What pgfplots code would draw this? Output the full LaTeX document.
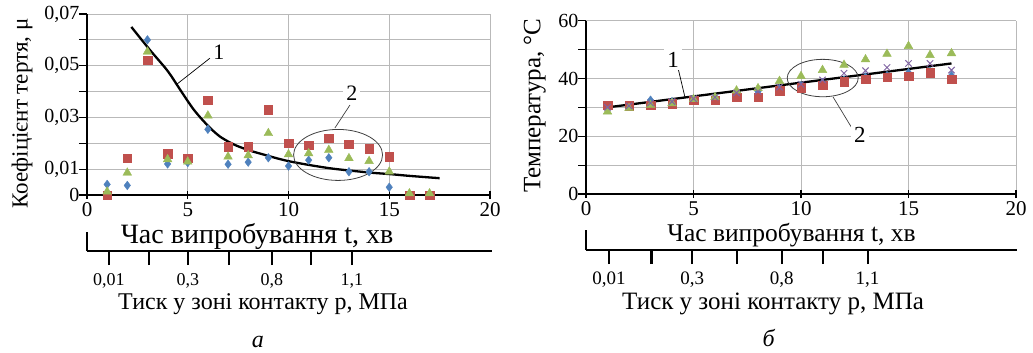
\documentclass[border=0pt]{standalone}
\usepackage{fontspec}
\setmainfont{Liberation Serif}
\usepackage{pgfplots}
\pgfplotsset{compat=1.18}
\definecolor{xlblue}{RGB}{79,129,189}
\definecolor{xlred}{RGB}{192,80,77}
\definecolor{xlgreen}{RGB}{155,187,89}
\definecolor{xlpurple}{RGB}{128,100,162}
\definecolor{gridgray}{RGB}{185,185,185}
\newcommand{\fs}[1]{\fontsize{#1}{#1}\selectfont}
\pgfplotsset{
  mainax/.style={
    scale only axis, anchor=south west, clip=false,
    axis lines=left, axis line style={-, line width=1.4pt, black},
    grid=major, grid style={gridgray, line width=0.9pt},
    tick align=center, major tick length=8pt,
    tick style={black, line width=1.2pt},
    y tick style={xshift=-4pt},
    scaled x ticks=false, scaled y ticks=false,
    /pgf/number format/assume math mode=true,
    x tick label style={font=\fs{21}},
    y tick label style={font=\fs{20}},
  },
  secax/.style={
    scale only axis, anchor=south west, clip=false,
    axis x line=bottom, axis y line=left,
    axis line style={-, line width=2.2pt, black},
    ymin=0, ymax=1, ytick=\empty,
    tick align=outside, major tick length=14pt,
    tick style={black, line width=2.2pt},
    xticklabels={{0,01},,{0,3},,{0,8},,{1,1}},
  },
}
\begin{document}
\begin{tikzpicture}
\useasboundingbox (0pt,0pt) rectangle (1033pt,-353pt);
% ---------------- panel a ----------------
\begin{axis}[mainax, at={(87pt,-195pt)}, width=403pt, height=181pt,
  xmin=0, xmax=20, ymin=0, ymax=0.07,
  xtick={0,5,10,15,20},
  ytick={0,0.01,0.02,0.03,0.04,0.05,0.06,0.07},
  yticklabels={0,{0,01},,{0,03},,{0,05},,{0,07}},
  xlabel={Час випробування t, хв},
  xlabel style={at={(axis description cs:0.422,-0.228)}, anchor=center, font=\fs{28}},
  ylabel={Коефіцієнт тертя, μ},
  ylabel style={at={(axis description cs:-0.161,0.45)}, anchor=center, font=\fs{23}},
]
\addplot[only marks, mark=diamond*, mark size=4.3pt, color=xlblue] coordinates {
(1,0.0041)(2,0.0037)(3,0.060)(4,0.012)(5,0.0125)(6,0.0254)(7,0.0119)(8,0.0127)
(9,0.0144)(10,0.0112)(11,0.0135)(12,0.0144)(13,0.009)(14,0.009)(15,0.003)(16,0)(17,0)};
\addplot[only marks, mark=square*, mark size=4.3pt, color=xlred] coordinates {
(1,0)(2,0.0142)(3,0.0522)(4,0.0159)(5,0.0143)(6,0.0367)(7,0.0187)(8,0.0187)
(9,0.0329)(10,0.020)(11,0.0193)(12,0.0219)(13,0.0197)(14,0.018)(15,0.0148)(16,0)(17,0)};
\addplot[only marks, mark=triangle*, mark size=5pt, color=xlgreen] coordinates {
(1,0.0013)(2,0.0086)(3,0.0554)(4,0.0138)(5,0.0129)(6,0.0307)(7,0.0148)(8,0.0153)
(9,0.0239)(10,0.0157)(11,0.0161)(12,0.0174)(13,0.0142)(14,0.0131)(15,0.009)(16,0.0006)(17,0.0006)};
\addplot[black, line width=2.3pt, smooth, no marks] coordinates {
(2.2,0.065)(3.1,0.0563)(4,0.048)(4.6,0.041)(5.3,0.033)(6,0.0268)(6.6,0.0226)(7.3,0.0195)
(8,0.0174)(8.6,0.016)(10,0.0131)(12,0.0104)(14,0.0087)(15,0.0081)(16,0.0074)(17.5,0.0065)};
\draw[black, line width=0.7pt] (axis cs:6.1,0.0529) -- (axis cs:4.45,0.0428);
\node[font=\fs{22}, inner sep=1pt] at (axis cs:6.55,0.0552) {1};
\draw[black!75, line width=0.8pt] (axis cs:12.46,0.0155) ellipse [x radius=44.5pt, y radius=25.5pt];
\draw[black!75, line width=0.7pt] (axis cs:13.05,0.0348) -- (axis cs:12.3,0.0259);
\node[font=\fs{22}, fill=white, inner sep=3pt] at (axis cs:13.15,0.0394) {2};
\end{axis}
\begin{axis}[secax, at={(87pt,-251pt)}, width=405pt, height=19pt,
  xmin=0, xmax=20.1,
  xtick={1.09,3.08,5.01,7.05,9.18,11.12,13.15},
  x tick label style={font=\fs{18}, yshift=-5pt},
  xlabel={Тиск у зоні контакту p, МПа},
  xlabel style={at={(axis description cs:0.4346,-2.79)}, anchor=center, font=\fs{24}},
]
\node[font=\fs{24}\itshape] at (rel axis cs:0.422,-4.79) {а};
\end{axis}
% ---------------- panel b ----------------
\begin{axis}[mainax, at={(586pt,-194pt)}, width=430pt, height=173.3pt,
  xmin=0, xmax=20, ymin=0, ymax=60,
  xtick={0,5,10,15,20},
  ytick={0,10,20,30,40,50,60},
  yticklabels={0,,20,,40,,60},
  xlabel={Час випробування t, хв},
  xlabel style={at={(axis description cs:0.478,-0.2366)}, anchor=center, font=\fs{25.5}},
  ylabel={Температура, °C},
  ylabel style={at={(axis description cs:-0.119,0.51)}, anchor=center, font=\fs{25}},
]
\addplot[only marks, mark=diamond*, mark size=4.3pt, color=xlblue] coordinates {
(1,30)(2,30.5)(3,32.5)(4,32)(5,33)(6,33.5)(7,34.5)(8,35.5)(9,36.5)(10,37.5)(11,38.5)
(12,39.5)(13,40.5)(14,41)(15,42)(16,42.5)(17,41)};
\addplot[only marks, mark=square*, mark size=4.3pt, color=xlred] coordinates {
(1,30.8)(2,30.5)(3,30.8)(4,31.2)(5,32.5)(6,32.5)(7,33.5)(8,33.5)(9,35.8)(10,36.9)
(11,37.7)(12,38.8)(13,39.7)(14,40.4)(15,40.8)(16,42)(17,39.7)};
\addplot[only marks, mark=triangle*, mark size=5pt, color=xlgreen] coordinates {
(1,28.5)(2,29.7)(3,30.8)(4,31.4)(5,32.8)(6,33.5)(7,35.8)(8,36.6)(9,39.1)(10,40.8)
(11,42.9)(12,44.7)(13,46.6)(14,48.5)(15,51.2)(16,48.1)(17,48.7)};
\addplot[only marks, mark=x, mark size=4.5pt, line width=1pt, color=xlpurple] coordinates {
(1,30)(2,30.5)(3,31.5)(4,32)(5,33)(6,33.5)(7,35)(8,35.5)(9,37)(10,38)(11,39.5)
(12,41.8)(13,42.7)(14,43.8)(15,45.2)(16,45.2)(17,42.9)};
\addplot[black, line width=2.3pt, no marks] coordinates {(1,30)(17,45.2)};
\draw[black, line width=0.7pt] (axis cs:4.28,43.6) -- (axis cs:4.6,33.6);
\node[font=\fs{23}, fill=white, inner sep=3pt] at (axis cs:4.05,46.6) {1};
\draw[black!75, line width=0.8pt] (axis cs:11.01,40.15) ellipse [x radius=35.5pt, y radius=18.7pt];
\draw[black!75, line width=0.7pt] (axis cs:12.37,22.8) -- (axis cs:11.49,33.6);
\node[font=\fs{23}, fill=white, inner sep=3pt] at (axis cs:12.74,20.4) {2};
\end{axis}
\begin{axis}[secax, at={(586pt,-250pt)}, width=431pt, height=20pt,
  xmin=0, xmax=20.05,
  xtick={1.07,3.05,4.94,7.04,9.10,11.03,13.1},
  x tick label style={font=\fs{19}, yshift=-4pt},
  xlabel={Тиск у зоні контакту p, МПа},
  xlabel style={at={(axis description cs:0.434,-2.72)}, anchor=center, font=\fs{25}},
]
\node[font=\fs{24}\itshape] at (rel axis cs:0.424,-4.4) {б};
\end{axis}
\end{tikzpicture}
\end{document}
